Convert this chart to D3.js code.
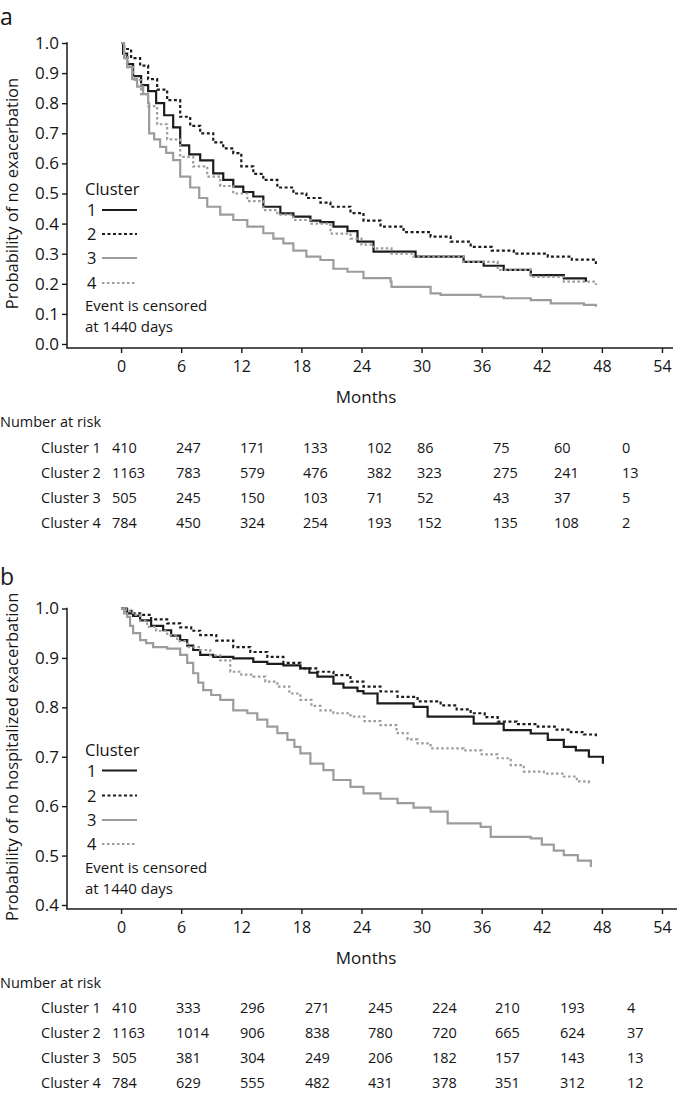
<!DOCTYPE html>
<html><head><meta charset="utf-8">
<script src="https://cdn.jsdelivr.net/npm/d3@7"></script>
<style>
body{margin:0;background:#fff;}
text{font-family:"Open Sans",sans-serif;fill:#151515;}
</style></head><body>
<svg id="chart" width="685" height="1094"></svg>
<script>
// ---------- data ----------
const clusters = ["1", "2", "3", "4"];
const xTickValues = [0, 6, 12, 18, 24, 30, 36, 42, 48, 54];
const yTicksA = [0.0, 0.1, 0.2, 0.3, 0.4, 0.5, 0.6, 0.7, 0.8, 0.9, 1.0];
const yTicksB = [0.4, 0.5, 0.6, 0.7, 0.8, 0.9, 1.0];
const riskMonths = [0, 6, 12, 18, 24, 30, 36, 42, 48];

// Panel a: probability of no exacerbation, [month, survival]
const exaC1 = [[0,1],[0.2,0.965],[0.6,0.93],[1.2,0.89],[2,0.86],[2.7,0.84],[3.5,0.80],[4.3,0.76],[5.2,0.72],[5.9,0.66],[6.8,0.63],[7.9,0.61],[9.2,0.567],[10.2,0.545],[11.2,0.523],[12.2,0.505],[13.2,0.49],[14.2,0.456],[15.9,0.434],[17.2,0.423],[18.9,0.41],[19.9,0.405],[21.2,0.39],[22.6,0.375],[23.6,0.34],[25.2,0.307],[29.4,0.29],[34.2,0.273],[36.2,0.26],[38.2,0.246],[40.9,0.229],[44.2,0.218],[46.4,0.207]];
const exaC2 = [[0,1],[0.3,0.98],[1,0.95],[1.9,0.925],[2.7,0.88],[3.6,0.845],[4.6,0.81],[5.9,0.755],[6.9,0.725],[7.9,0.70],[9.2,0.67],[10.2,0.65],[11.2,0.634],[12,0.59],[13.2,0.565],[14.2,0.545],[15.6,0.52],[17.2,0.50],[18.5,0.485],[19.9,0.47],[20.9,0.456],[22.9,0.435],[24.2,0.41],[25.9,0.39],[28.2,0.372],[30.9,0.357],[32.9,0.34],[34.9,0.323],[37,0.31],[39.2,0.30],[42.6,0.29],[45,0.28],[47.4,0.266]];
const exaC3 = [[0,1],[0.3,0.95],[0.6,0.92],[1.1,0.88],[1.6,0.855],[2.2,0.83],[2.7,0.80],[2.8,0.70],[3.3,0.68],[3.9,0.655],[4.5,0.635],[5.2,0.611],[5.9,0.556],[6.9,0.52],[7.8,0.485],[8.6,0.456],[9.9,0.43],[11.2,0.412],[12.6,0.39],[14.2,0.368],[15.2,0.35],[16.2,0.334],[17.2,0.31],[18.5,0.29],[19.9,0.279],[21.2,0.25],[22.6,0.24],[24.2,0.219],[26.9,0.207],[27,0.19],[30.9,0.168],[31.9,0.163],[35.9,0.157],[38.2,0.152],[40.9,0.146],[42.9,0.135],[46.2,0.13],[47.4,0.124]];
const exaC4 = [[0,1],[0.3,0.96],[0.7,0.92],[1.2,0.877],[2,0.83],[2.7,0.79],[3.6,0.73],[4.6,0.68],[5.9,0.622],[7.2,0.59],[8.6,0.556],[9.9,0.525],[11.2,0.50],[12.6,0.475],[14.2,0.445],[15.6,0.43],[17.2,0.412],[19,0.40],[20.9,0.367],[22.9,0.35],[24,0.33],[25.2,0.318],[27,0.30],[29.2,0.29],[34.2,0.273],[37.6,0.246],[40.9,0.223],[44.2,0.207],[47.4,0.196]];

// Panel b: probability of no hospitalized exacerbation
const hosC1 = [[0,1],[0.6,0.99],[1.2,0.985],[1.9,0.976],[3,0.965],[4.2,0.956],[5,0.945],[5.9,0.936],[6.6,0.925],[7.2,0.916],[7.9,0.906],[9.2,0.902],[11.2,0.899],[13.2,0.892],[14.6,0.888],[16.2,0.885],[17.9,0.879],[18.8,0.87],[19.6,0.862],[21.2,0.848],[22.2,0.84],[23.6,0.833],[24.2,0.828],[25.6,0.808],[29.2,0.801],[30.6,0.781],[35.2,0.767],[38.2,0.754],[40.9,0.747],[42.6,0.734],[44.2,0.72],[45.4,0.713],[46.7,0.70],[48.1,0.686]];
const hosC2 = [[0,1],[0.5,0.995],[1.2,0.99],[1.9,0.987],[3,0.978],[4.6,0.97],[5.9,0.962],[7,0.955],[7.9,0.946],[9.5,0.935],[11.2,0.922],[12.9,0.912],[14.6,0.902],[16.2,0.89],[17.9,0.879],[19.6,0.872],[21.2,0.865],[22.9,0.852],[24.2,0.842],[25.9,0.832],[27.6,0.821],[29.6,0.812],[31.9,0.804],[33.5,0.796],[34.9,0.788],[36.3,0.78],[37.6,0.771],[39.5,0.766],[41.6,0.761],[43.3,0.755],[44.9,0.75],[46.2,0.745],[47.4,0.738]];
const hosC3 = [[0,1],[0.3,0.99],[0.6,0.983],[0.9,0.965],[1.2,0.95],[1.9,0.936],[2.5,0.93],[3.2,0.922],[4.6,0.919],[5.9,0.906],[6.6,0.89],[7.2,0.869],[7.7,0.85],[8.2,0.835],[9,0.825],[9.9,0.815],[11.2,0.794],[12.6,0.788],[13.6,0.775],[14.6,0.761],[15.6,0.748],[16.6,0.734],[17.3,0.72],[17.9,0.707],[18.9,0.686],[20.2,0.673],[21.2,0.653],[22.9,0.639],[24.2,0.626],[25.9,0.615],[27.6,0.606],[29.2,0.597],[30.9,0.589],[32.6,0.565],[35.9,0.558],[36.9,0.538],[40.9,0.535],[42,0.522],[43.2,0.51],[44.2,0.501],[45.6,0.49],[46.9,0.477]];
const hosC4 = [[0,1],[0.5,0.995],[1.2,0.987],[1.9,0.975],[2.6,0.963],[3.5,0.955],[4.6,0.946],[5.6,0.934],[6.6,0.922],[7.9,0.916],[8.9,0.905],[9.9,0.895],[10.9,0.872],[12,0.866],[13.2,0.862],[14.4,0.852],[15.6,0.842],[16.8,0.828],[17.9,0.815],[19,0.803],[19.9,0.794],[21.2,0.788],[22.9,0.781],[24.3,0.772],[25.9,0.764],[27.5,0.748],[28.6,0.735],[29.6,0.727],[30.9,0.717],[34.2,0.713],[36,0.705],[37.6,0.697],[38.9,0.683],[40.2,0.67],[42.2,0.666],[44.2,0.66],[45.5,0.65],[46.7,0.643]];

// Number at risk
const riskA1 = [410, 247, 171, 133, 102, 86, 75, 60, 0];
const riskA2 = [1163, 783, 579, 476, 382, 323, 275, 241, 13];
const riskA3 = [505, 245, 150, 103, 71, 52, 43, 37, 5];
const riskA4 = [784, 450, 324, 254, 193, 152, 135, 108, 2];
const riskB1 = [410, 333, 296, 271, 245, 224, 210, 193, 4];
const riskB2 = [1163, 1014, 906, 838, 780, 720, 665, 624, 37];
const riskB3 = [505, 381, 304, 249, 206, 182, 157, 143, 13];
const riskB4 = [784, 629, 555, 482, 431, 378, 351, 312, 12];

// ---------- styles / layout ----------
const seriesStyle = [
  {color: "#1c1c1c", width: 2.2, dash: null},
  {color: "#1c1c1c", width: 2.2, dash: "3,2.5"},
  {color: "#9c9c9c", width: 2.2, dash: null},
  {color: "#9c9c9c", width: 2.2, dash: "2.5,2.5"}
];
const xDomain = [-5.4, 55.1];

const svg = d3.select("#chart");

function drawPanel(p) {
  const g = svg.append("g");
  const x = d3.scaleLinear().domain(xDomain).range([67, 673]);
  const y = d3.scaleLinear().domain(p.yDomain).range([p.yBottom, p.yTop]);

  // panel letter
  g.append("text").attr("x", 0).attr("y", p.letterY).style("font-size", "23px").text(p.letter);

  // axes
  const yAxis = d3.axisLeft(y).tickValues(p.yTicks).tickFormat(d3.format(".1f"))
    .tickSize(5).tickPadding(3).tickSizeOuter(0);
  const ya = g.append("g").attr("transform", "translate(67,0)").call(yAxis);
  ya.select(".domain").remove();
  ya.selectAll(".tick line").attr("stroke", "#1a1a1a").attr("stroke-width", 1.4);
  ya.selectAll(".tick text").style("font-size", "17px").style("font-family", "'Open Sans',sans-serif").attr("fill", "#151515");
  g.append("line").attr("x1", 67).attr("x2", 67).attr("y1", p.yTop - 0.7).attr("y2", p.axisY)
    .attr("stroke", "#1a1a1a").attr("stroke-width", 1.5);

  const xAxis = d3.axisBottom(x).tickValues(xTickValues).tickFormat(d3.format("d"))
    .tickSize(5).tickPadding(8).tickSizeOuter(0);
  const xa = g.append("g").attr("transform", `translate(0,${p.axisY})`).call(xAxis);
  xa.select(".domain").remove();
  xa.selectAll(".tick line").attr("stroke", "#1a1a1a").attr("stroke-width", 1.4);
  xa.selectAll(".tick text").style("font-size", "16px").style("font-family", "'Open Sans',sans-serif").attr("fill", "#151515");
  g.append("line").attr("x1", 66.3).attr("x2", p.xEnd).attr("y1", p.axisY).attr("y2", p.axisY)
    .attr("stroke", "#1a1a1a").attr("stroke-width", 1.5);

  // axis titles
  g.append("text").attr("transform", `translate(18,${(p.yTop + p.yBottom) / 2}) rotate(-90)`)
    .attr("text-anchor", "middle").style("font-size", "16.5px").text(p.yLabel);
  g.append("text").attr("x", 366).attr("y", p.axisY + 55).attr("text-anchor", "middle")
    .style("font-size", "17px").text("Months");

  // curves
  const line = d3.line().x(d => x(d[0])).y(d => y(d[1])).curve(d3.curveStepAfter);
  p.series.forEach((s, i) => {
    const st = seriesStyle[i];
    g.append("path").attr("d", line(s)).attr("fill", "none")
      .attr("stroke", st.color).attr("stroke-width", st.width)
      .attr("stroke-dasharray", st.dash).attr("stroke-linejoin", "miter");
  });

  // legend
  g.append("text").attr("x", 85).attr("y", p.legY[0] + 6).style("font-size", "16.5px").text("Cluster");
  clusters.forEach((c, i) => {
    const ly = p.legY[i + 1];
    g.append("text").attr("x", 87).attr("y", ly + 6).style("font-size", "16.5px").text(c);
    const st = seriesStyle[i];
    g.append("line").attr("x1", 102).attr("x2", 137).attr("y1", ly).attr("y2", ly)
      .attr("stroke", st.color).attr("stroke-width", st.width).attr("stroke-dasharray", st.dash);
  });
  g.append("text").attr("x", 85).attr("y", p.legY[5] + 5).style("font-size", "15px").text("Event is censored");
  g.append("text").attr("x", 85).attr("y", p.legY[6] + 5).style("font-size", "15px").text("at 1440 days");

  // number at risk table
  g.append("text").attr("x", 0).attr("y", p.tableY[0] + 5).style("font-size", "14.5px").text("Number at risk");
  p.risk.forEach((row, i) => {
    const ty = p.tableY[i + 1] + 5;
    g.append("text").attr("x", 41).attr("y", ty).style("font-size", "14.5px").text("Cluster " + clusters[i]);
    row.forEach((v, j) => {
      g.append("text").attr("x", p.colX[j]).attr("y", ty).style("font-size", "14.5px").text(v);
    });
  });
}

drawPanel({
  letter: "a", letterY: 25,
  yDomain: [0, 1], yTop: 43, yBottom: 344, axisY: 348, xEnd: 673,
  yTicks: yTicksA, yLabel: "Probability of no exacerbation",
  series: [exaC1, exaC2, exaC3, exaC4],
  legY: [189, 210, 234, 258, 283, 306, 327],
  risk: [riskA1, riskA2, riskA3, riskA4],
  tableY: [422, 447.5, 472.5, 497.5, 522.5],
  colX: [112, 176, 240, 303, 367, 417, 493, 554, 622]
});

drawPanel({
  letter: "b", letterY: 585,
  yDomain: [0.4, 1.0], yTop: 608.5, yBottom: 905, axisY: 909, xEnd: 677,
  yTicks: yTicksB, yLabel: "Probability of no hospitalized exacerbation",
  series: [hosC1, hosC2, hosC3, hosC4],
  legY: [750, 770.5, 795.5, 820, 844, 868, 888.5],
  risk: [riskB1, riskB2, riskB3, riskB4],
  tableY: [983, 1008, 1033, 1058, 1083],
  colX: [112, 176, 240, 305, 368, 432, 495, 560, 627]
});
</script>
</body></html>
